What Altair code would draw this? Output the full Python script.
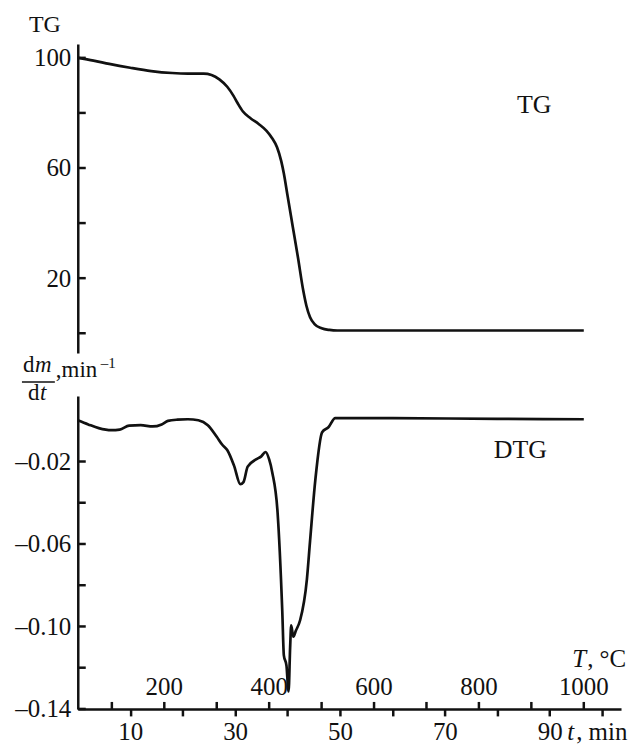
import altair as alt
import pandas as pd

# ---------------- data ----------------
tg_t = [0, 3, 6, 10, 14, 18, 21, 24, 25.5, 27, 28.5, 29.7, 30.5, 31.5, 33, 34.5, 36, 37, 38,
        38.8, 39.3, 40, 41, 42, 43, 43.6, 44.3, 45.2, 46.5, 48, 49.5, 60, 80, 96.5]
tg_v = [100, 99.0, 97.8, 96.4, 95.2, 94.5, 94.3, 94.3, 93.8, 92.2, 89.5, 86.2, 83.5, 80.5, 78, 76,
        73.5, 71, 67.5, 62.5, 58, 50, 38.7, 27.4, 15.5, 10, 5.8, 3.2, 1.8, 1.2, 1.0, 1.0, 1.0, 1.0]

dtg_t = [0, 2, 4, 6.4, 8, 9.8, 12, 14.3, 16, 17.2, 19, 21, 23, 24.8, 26.5, 27.6, 28.5, 29.8, 31,
         31.6, 32.4, 34, 35, 35.8, 36.5, 37.1, 38.1, 39, 39.3, 39.8, 40.2, 40.5, 40.7, 41.1, 41.6,
         42.4, 43.7, 44.3, 45.3, 46.6, 47.8, 49.1, 60, 80, 96.5]
dtg_v = [0.0, -0.002, -0.0038, -0.0048, -0.0045, -0.0026, -0.0024, -0.003, -0.002, -0.0003,
         0.0003, 0.0005, 0.0, -0.0024, -0.008, -0.012, -0.0144, -0.022, -0.031, -0.030, -0.0225,
         -0.019, -0.0175, -0.0154, -0.019, -0.0254, -0.0446, -0.0926, -0.114, -0.119, -0.1315,
         -0.110, -0.0995, -0.105, -0.102, -0.097, -0.077, -0.0585, -0.029, -0.0058, -0.0034,
         0.001, 0.001, 0.0007, 0.0005]

tg_ticks = [0, 20, 40, 60, 80, 100]
tg_labels = [100, 60, 20]
dtg_ticks = [-0.02, -0.04, -0.06, -0.08, -0.10, -0.12, -0.14]
dtg_labels = [-0.02, -0.06, -0.10, -0.14]
t_ticks = [10, 20, 30, 40, 50, 60, 70, 80, 90, 100]
temp_ticks = [100, 200, 300, 400, 500, 600, 700, 800, 900, 1000]
temp_labels = [200, 400, 600, 800, 1000]
T_START = 35      # deg C at t = 0
RATE = 10         # deg C per min

# ---------------- layout ----------------
W = 545
H1 = 310
H2 = 314
FONT = "Liberation Serif"
INK = "#111111"
FS = 25

xscale = alt.Scale(domain=[0, 103.6], nice=False, zero=False)
y1scale = alt.Scale(domain=[-7.2, 105], nice=False, zero=False)
y2scale = alt.Scale(domain=[-0.14, 0.0118], nice=False, zero=False)

y1axis = alt.Axis(values=tg_labels, ticks=False, labelPadding=7, title=None, grid=False)
y2axis = alt.Axis(values=dtg_labels, ticks=False, labelPadding=7, title=None, grid=False,
                  labelExpr="'\u2013' + format(abs(datum.value), '.2f')")
x2axis = alt.Axis(values=t_ticks, tickSize=7, tickWidth=2.5, labelPadding=4, title=None,
                  grid=False, labelExpr="datum.value % 20 == 10 ? datum.label : ''")


def txt(s, x, y, align="left", baseline="alphabetic", size=FS, style="normal"):
    return alt.Chart(pd.DataFrame({"s": [s]})).mark_text(
        font=FONT, fontSize=size, fontStyle=style, color=INK, align=align, baseline=baseline
    ).encode(text="s:N", x=alt.value(x), y=alt.value(y))


# ---------------- upper panel (TG) ----------------
tg_df = pd.DataFrame({"t": tg_t, "v": tg_v})
tg_line = alt.Chart(tg_df).mark_line(color=INK, strokeWidth=2.7, interpolate="monotone").encode(
    x=alt.X("t:Q", scale=xscale, axis=None),
    y=alt.Y("v:Q", scale=y1scale, axis=y1axis),
)
tg_tick = alt.Chart(pd.DataFrame({"v": tg_ticks})).mark_rule(color=INK, strokeWidth=2.5).encode(
    y=alt.Y("v:Q", scale=y1scale, axis=y1axis), x=alt.value(0), x2=alt.value(8)
)
upper = alt.layer(
    tg_line, tg_tick,
    txt("TG", -49, -12, size=24),
    txt("TG", 458, 61, align="center", baseline="middle", size=26),
).properties(width=W, height=H1)

# ---------------- lower panel (DTG) ----------------
dtg_df = pd.DataFrame({"t": dtg_t, "v": dtg_v})
dtg_line = alt.Chart(dtg_df).mark_line(color=INK, strokeWidth=2.7, interpolate="monotone").encode(
    x=alt.X("t:Q", scale=xscale, axis=x2axis),
    y=alt.Y("v:Q", scale=y2scale, axis=y2axis),
)
dtg_tick = alt.Chart(pd.DataFrame({"v": dtg_ticks})).mark_rule(color=INK, strokeWidth=2.5).encode(
    y=alt.Y("v:Q", scale=y2scale, axis=y2axis), x=alt.value(0), x2=alt.value(8)
)
temp_df = pd.DataFrame({"T": temp_ticks})
temp_tick = alt.Chart(temp_df).transform_calculate(
    t=f"(datum.T - {T_START}) / {RATE}"
).mark_rule(color=INK, strokeWidth=2.5).encode(
    x=alt.X("t:Q", scale=xscale, axis=x2axis), y=alt.value(H2), y2=alt.value(H2 - 7)
)
temp_lab = alt.Chart(pd.DataFrame({"T": temp_labels})).transform_calculate(
    t=f"(datum.T - {T_START}) / {RATE}"
).mark_text(font=FONT, fontSize=FS, color=INK, baseline="alphabetic").encode(
    x=alt.X("t:Q", scale=xscale, axis=x2axis), y=alt.value(H2 - 14), text="T:Q"
)
frac = alt.Chart(pd.DataFrame({"a": [0]})).mark_rule(color=INK, strokeWidth=1.3).encode(
    x=alt.value(-56), x2=alt.value(-23), y=alt.value(-14)
)
lower = alt.layer(
    dtg_line, dtg_tick, temp_tick, temp_lab, frac,
    txt("d", -55, -24, size=23),
    txt("m", -43, -24, size=23, style="italic"),
    txt("d", -50, 4, size=23),
    txt("t", -38, 4, size=23, style="italic"),
    txt(",min", -22, -19, size=23),
    txt("\u20131", 23, -28, size=15),
    txt("DTG", 444, 54, align="center", baseline="middle", size=26),
    txt("T", 510, 272, align="right", style="italic"),
    txt(", \u00b0C", 511, 272),
    txt("t", 491, H2 + 31, style="italic"),
    txt(", min", 500, H2 + 31),
).properties(width=W, height=H2)

chart = alt.vconcat(upper, lower, spacing=43, bounds="flush").properties(
    padding={"left": 6, "top": 4, "right": 0, "bottom": 0}
).configure_view(strokeWidth=0).configure_axis(
    domainColor=INK, domainWidth=2.5, tickColor=INK, labelColor=INK,
    labelFont=FONT, labelFontSize=FS,
)

chart.save("out.html", embed_options={"renderer": "svg", "actions": False})
